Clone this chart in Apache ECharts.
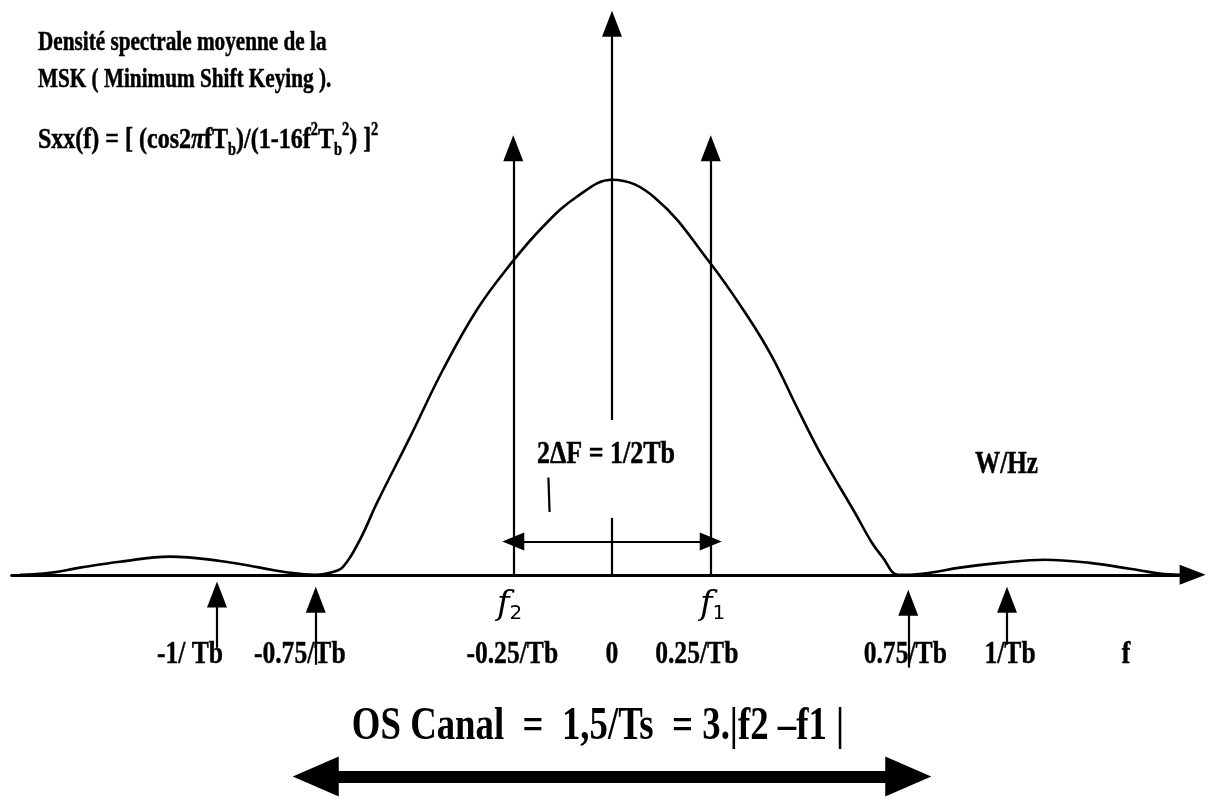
<!DOCTYPE html>
<html>
<head>
<meta charset="utf-8">
<title>Densité spectrale moyenne de la MSK</title>
<script src="https://cdn.jsdelivr.net/npm/echarts@6/dist/echarts.min.js"></script>
<style>
  html, body { margin: 0; padding: 0; background: #fff; }
  #chart { width: 1209px; height: 807px; }
</style>
</head>
<body>
<div id="chart"></div>
<script>
// MSK mean power spectral density: frequency in units of 1/Tb,
// level normalised to the main-lobe peak (sketch of the curve, sidelobes exaggerated)
const freq = [-1.499, -1.423, -1.347, -1.246, -1.119, -0.992, -0.891, -0.815, -0.752,
  -0.714, -0.681, -0.638, -0.595, -0.511, -0.428, -0.342, -0.258, -0.175, -0.089, 0,
  0.109, 0.248, 0.344, 0.405, 0.471, 0.532, 0.615, 0.658, 0.684, 0.724, 0.754,
  0.805, 0.881, 0.982, 1.096, 1.210, 1.311, 1.387, 1.438];
const density = [0, 0.005, 0.018, 0.033, 0.046, 0.035, 0.018, 0.005, 0,
  0.005, 0.020, 0.089, 0.182, 0.349, 0.519, 0.671, 0.785, 0.881, 0.957, 1,
  0.954, 0.790, 0.653, 0.552, 0.418, 0.299, 0.157, 0.081, 0.046, 0, 0,
  0.005, 0.018, 0.030, 0.038, 0.030, 0.015, 0.003, 0];

// frequency axis labels
const tickValues = [-1, -0.75, -0.25, 0, 0.25, 0.75, 1];
const tickLabels = ['-1/ Tb', '-0.75/Tb', '-0.25/Tb', '0', '0.25/Tb', '0.75/Tb', '1/Tb'];

// tone frequencies f2 / f1 and the arrows drawn on them
const carriers = [-0.25, 0.25];
const carrierArrowTop = 1.08;
// vertical (W/Hz) axis: arrow end and the gap left around the 2ΔF label
const axisArrowTop = 1.395;
const axisGap = [0.144, 0.392];
// level of the 2ΔF double arrow between f2 and f1
const spacingLevel = 0.084;
// small stroke under the 2ΔF label
const strokeFrom = [-0.161, 0.246];
const strokeTo = [-0.158, 0.159];
// upward markers under the axis at ±0.75/Tb and ±1/Tb
const markerFreqs = [-1, -0.75, 0.75, 1];
const markerBottoms = [-0.185, -0.228, -0.235, -0.177];
const markerTops = [-0.050, -0.063, -0.071, -0.063];
// channel occupancy: 1,5/Ts wide, drawn below the labels
const channelEdges = [-0.75, 0.75];
const channelLevel = -0.511;

const SERIF = '"Liberation Serif", "Times New Roman", serif';
const NARROW = 0.8;                 // horizontal squeeze of the bold lettering
const LABEL_DROP = 80;              // px between the frequency axis and its labels
const LABEL_SHIFT = [-27, -16, -1, 0, -14, -3, 3];   // hand-placed label nudges, px

const thinLines = [];
// vertical axis through f = 0, interrupted by the label
thinLines.push({ coords: [[0, 0], [0, axisGap[0]]], symbol: ['none', 'none'] });
thinLines.push({ coords: [[0, axisGap[1]], [0, axisArrowTop]], symbol: ['none', 'triangle'], symbolSize: [[20, 26], [20, 26]] });
carriers.forEach(function (c) {
  thinLines.push({ coords: [[c, 0], [c, carrierArrowTop]], symbol: ['none', 'triangle'], symbolSize: [[20, 26], [20, 26]] });
});
thinLines.push({ coords: [[carriers[0], spacingLevel], [carriers[1], spacingLevel]], symbol: ['triangle', 'triangle'], symbolSize: [[18, 22], [18, 22]] });
thinLines.push({ coords: [strokeFrom, strokeTo], symbol: ['none', 'none'] });
markerFreqs.forEach(function (f, i) {
  thinLines.push({ coords: [[f, markerBottoms[i]], [f, markerTops[i]]], symbol: ['none', 'triangle'], symbolSize: [[20, 26], [20, 26]] });
});

function boldText(x, y, text, size, extra) {
  const el = {
    type: 'text', x: x, y: y, scaleX: NARROW,
    style: {
      text: text, fontFamily: SERIF, fontWeight: 'bold', fontSize: size,
      fill: '#000', stroke: '#000', lineWidth: 0.5, verticalAlign: 'middle'
    }
  };
  if (extra) Object.assign(el.style, extra);
  return el;
}

function handLabel(x, y, idx) {
  return {
    type: 'text', x: x, y: y,
    style: {
      text: '{f|f}{i|' + idx + '}', fill: '#000', verticalAlign: 'middle',
      rich: {
        f: { fontFamily: '"DejaVu Serif", serif', fontStyle: 'italic', fontSize: 34, lineHeight: 38 },
        i: { fontFamily: '"DejaVu Sans", sans-serif', fontSize: 20, verticalAlign: 'bottom', lineHeight: 32 }
      }
    }
  };
}

const chart = echarts.init(document.getElementById('chart'), null, { renderer: 'canvas' });

const option = {
  animation: false,
  backgroundColor: '#ffffff',
  grid: { left: 11.6, right: 16.35, top: 2, bottom: 15, containLabel: false, outerBoundsMode: 'none' },
  xAxis: {
    type: 'value',
    min: -1.52,
    max: 1.47,
    axisLine: {
      show: true,
      onZero: true,
      lineStyle: { color: '#000', width: 3 },
      symbol: ['none', 'triangle'],
      symbolSize: [20, 26]
    },
    axisTick: { show: false },
    splitLine: { show: false },
    axisLabel: { show: false }
  },
  yAxis: {
    type: 'value',
    min: -0.55,
    max: 1.45,
    axisLine: { show: false },
    axisTick: { show: false },
    axisLabel: { show: false },
    splitLine: { show: false }
  },
  series: [
    {
      name: 'Sxx(f)',
      type: 'line',
      data: freq.map(function (f, i) { return [f, density[i]]; }),
      smooth: 0.4,
      showSymbol: false,
      lineStyle: { color: '#000', width: 2.6 },
      z: 3,
      silent: true
    },
    {
      name: 'annotations',
      type: 'lines',
      coordinateSystem: 'cartesian2d',
      polyline: false,
      lineStyle: { color: '#000', width: 2.2, opacity: 1, curveness: 0 },
      data: thinLines,
      z: 4,
      silent: true
    },
    {
      name: 'channel',
      type: 'lines',
      coordinateSystem: 'cartesian2d',
      polyline: false,
      symbol: ['triangle', 'triangle'],
      symbolSize: [[40, 46], [40, 46]],
      lineStyle: { color: '#000', width: 12, opacity: 1, curveness: 0 },
      data: [{ coords: [[channelEdges[0], channelLevel], [channelEdges[1], channelLevel]] }],
      z: 4,
      silent: true
    },
    {
      // frequency labels placed through the x scale
      name: 'frequency labels',
      type: 'custom',
      coordinateSystem: 'cartesian2d',
      data: tickValues.map(function (v) { return [v, 0]; }),
      encode: { x: 0, y: 1 },
      silent: true,
      z: 5,
      renderItem: function (params, api) {
        const p = api.coord([api.value(0), api.value(1)]);
        return {
          type: 'text',
          x: p[0] + LABEL_SHIFT[params.dataIndex],
          y: p[1] + LABEL_DROP,
          scaleX: NARROW,
          style: {
            text: tickLabels[params.dataIndex],
            fontFamily: SERIF, fontWeight: 'bold', fontSize: 32,
            fill: '#000', stroke: '#000', lineWidth: 0.4,
            align: 'center', verticalAlign: 'middle'
          }
        };
      }
    }
  ],
  graphic: [
    boldText(38, 43, 'Densité spectrale moyenne de la', 26.5),
    boldText(38, 80, 'MSK ( Minimum Shift Keying ).', 26.5),
    boldText(38, 140, 'Sxx(f) = [ (cos2{pi|π}fT{sub|b})/(1-16f{sup|2}T{sub|b}{sup|2}) ]{sup|2}', 30, {
      lineHeight: 38,
      rich: {
        pi: { fontFamily: SERIF, fontStyle: 'italic', fontWeight: 'bold', fontSize: 30, lineHeight: 38 },
        sub: { fontFamily: SERIF, fontWeight: 'bold', fontSize: 18, verticalAlign: 'bottom', lineHeight: 34 },
        sup: { fontFamily: SERIF, fontWeight: 'bold', fontSize: 18, verticalAlign: 'top', lineHeight: 38 }
      }
    }),
    boldText(975, 465, 'W/Hz', 31.5),
    boldText(537, 455, '2ΔF = 1/2Tb', 32.5),
    handLabel(497, 605, 2),
    handLabel(700, 605, 1),
    boldText(1126, 655, 'f', 32, { align: 'center' }),
    boldText(598, 727, 'OS Canal  =  1,5/Ts  = 3.|f2 –f1 |', 46, { align: 'center', lineWidth: 0 })
  ]
};

chart.setOption(option);
</script>
</body>
</html>
